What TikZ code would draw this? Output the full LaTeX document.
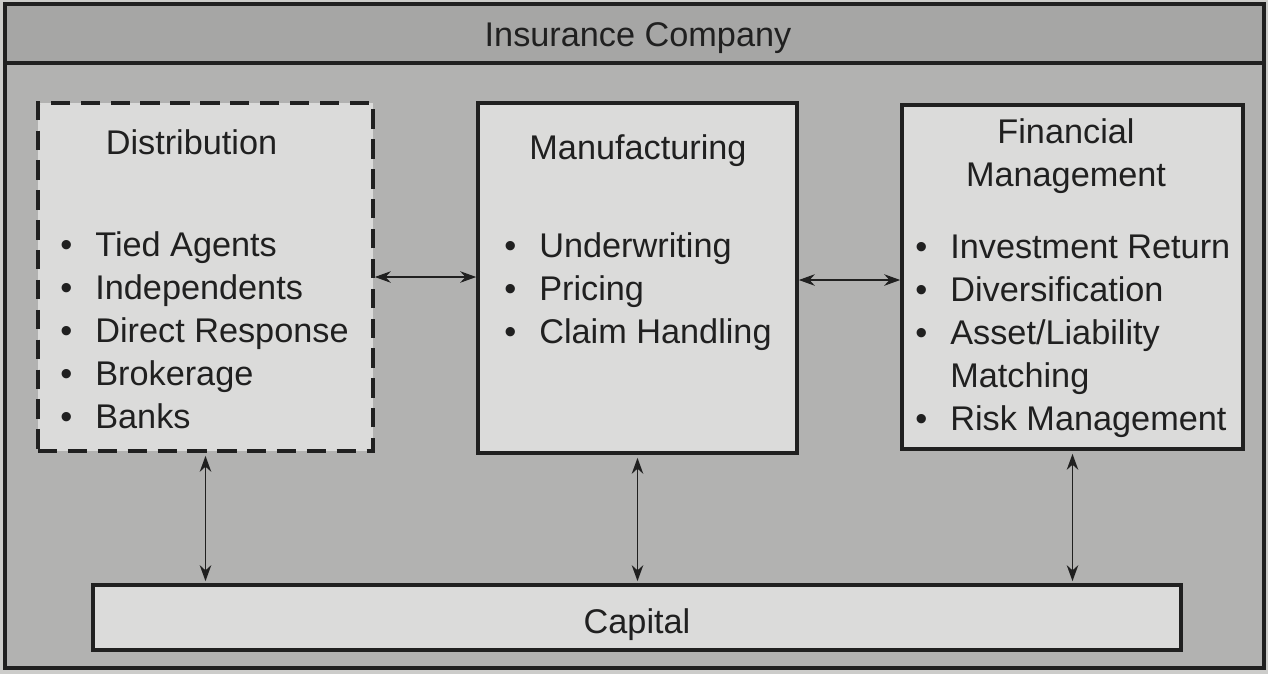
\documentclass[tikz,border=0pt]{standalone}
\usepackage{fontspec}
\setmainfont{Liberation Sans}
\usetikzlibrary{positioning, arrows.meta, calc}
\definecolor{pageGray}{RGB}{204,204,202}
\definecolor{bodyGray}{RGB}{178,178,177}
\definecolor{headGray}{RGB}{166,166,165}
\definecolor{boxGray}{RGB}{219,219,218}
\definecolor{inkGray}{RGB}{32,32,32}
\tikzstyle{frameBox}=[draw=inkGray, line width=2.1pt, inner sep=0pt]
\tikzstyle{unitBox}=[frameBox, fill=boxGray]
\tikzstyle{dashBox}=[unitBox, dash pattern=on 11pt off 6pt]
\tikzstyle{boxText}=[text=inkGray, inner sep=0pt,
  font=\fontsize{19.5}{24.5}\selectfont]
\tikzstyle{linkArrow}=[<->, line width=0.9pt, draw=inkGray,
  >={Stealth[length=3.2mm, width=2.3mm]}]
\newcommand{\bulletList}[1]{%
  \begin{tabular}[t]{@{}l@{\hspace{0.46cm}}l@{}}#1\end{tabular}}

\begin{document}
\begin{tikzpicture}[x=0.02cm, y=-0.02cm]
      \fill[pageGray] (0,0) rectangle (1268,674);
      \useasboundingbox (0,0) rectangle (1268,674);

      % company frame and its title band
      \node[frameBox, fill=bodyGray, minimum width=25.18cm,
        minimum height=13.28cm] (company) at (634.5,336) {};
      \node[frameBox, fill=headGray, minimum width=25.18cm,
        minimum height=1.18cm] (head) at (634.5,33.5) {};
      \node[boxText, anchor=base] (headText) at (638,46) {Insurance Company};

      % the three functions
      \node[dashBox, minimum width=6.70cm, minimum height=6.96cm]
        (dist) at (205.5,277) {};
      \node[unitBox, minimum width=6.38cm, minimum height=7.00cm]
        (manu) at (637.5,278) {};
      \node[unitBox, minimum width=6.82cm, minimum height=6.88cm]
        (fin) at (1072.5,277) {};
      \node[unitBox, minimum width=21.76cm, minimum height=1.30cm]
        (capital) at (637,617.5) {};

      \node[boxText, anchor=base] (distTitle) at (191.5,154) {Distribution};
      \node[boxText, anchor=base west] (distList) at (60,256) {\bulletList{
          \textbullet & Tied Agents\\
          \textbullet & Independents\\
          \textbullet & Direct Response\\
          \textbullet & Brokerage\\
          \textbullet & Banks}};

      \node[boxText, anchor=base] (manuTitle) at (638,159) {Manufacturing};
      \node[boxText, anchor=base west] (manuList) at (504,257) {\bulletList{
          \textbullet & Underwriting\\
          \textbullet & Pricing\\
          \textbullet & Claim Handling}};

      \node[boxText, anchor=base] (finTitle) at (1066,143)
        {\begin{tabular}[t]{@{}c@{}}Financial\\Management\end{tabular}};
      \node[boxText, anchor=base west] (finList) at (915,258) {\bulletList{
          \textbullet & Investment Return\\
          \textbullet & Diversification\\
          \textbullet & Asset/Liability\\
                      & Matching\\
          \textbullet & Risk Management}};

      \node[boxText, anchor=base] (capText) at (637,633) {Capital};

      % links
      \draw[linkArrow] (dist.east) -- (dist.east -| manu.west);
      \draw[linkArrow] ($(manu.east)+(0,2)$) -- ($(manu.east -| fin.west)+(0,2)$);
      \foreach \p in {dist,manu,fin}
        \draw[linkArrow] ($(\p.south)+(0,3)$) -- ($(\p.south |- capital.north)+(0,-2)$);
    \end{tikzpicture}
\end{document}
